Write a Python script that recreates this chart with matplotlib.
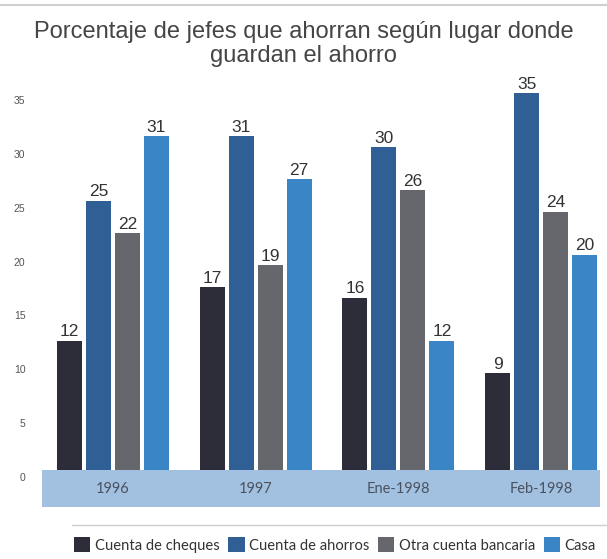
"""Porcentaje de jefes que ahorran según lugar donde guardan el ahorro."""

import numpy as np
import matplotlib
matplotlib.use("Agg")
import matplotlib.pyplot as plt
import matplotlib.transforms as mtransforms
from matplotlib.lines import Line2D

periods = ["1996", "1997", "Ene-1998", "Feb-1998"]
series = ["Cuenta de cheques", "Cuenta de ahorros", "Otra cuenta bancaria", "Casa"]
cheques = [12, 17, 16, 9]
ahorros = [25, 31, 30, 35]
otra = [22, 19, 26, 24]
casa = [31, 27, 12, 20]
y_ticks = [0, 5, 10, 15, 20, 25, 30, 35]

colors = ["#2c2d38", "#2f5f94", "#66676c", "#3a85c6"]
band_color = "#a2c1e0"
sans = ["Liberation Sans", "DejaVu Sans"]
geo = ["Lato", "DejaVu Sans"]

fig = plt.figure(figsize=(6.07, 5.59), dpi=100)
fig.patch.set_facecolor("white")
ax = fig.add_axes([0.0692, 0.0930, 0.9193, 0.779])

x = np.arange(len(periods))
step = 0.203
width = 0.175
for i, (name, vals) in enumerate(zip(series, [cheques, ahorros, otra, casa])):
    bars = ax.bar(x + (i - 1.5) * step, vals, width=width, color=colors[i],
                  label=name, zorder=3)
    ax.bar_label(bars, padding=1, fontsize=12.5, color="#333333", family=sans)

# light blue band holding the category labels
ax.axhspan(-3.44, 0, color=band_color, zorder=1, lw=0)
for xi, lab in zip(x, periods):
    ax.text(xi, -1.75, lab, ha="center", va="center", fontsize=10.5,
            color="#4a5260", family=geo, zorder=4)

ax.set_xlim(-0.498, 3.413)
ax.set_ylim(-3.44, 37)
ax.set_xticks([])
ax.set_yticks(y_ticks)
ax.set_yticklabels([str(t) for t in y_ticks], fontsize=7.5, color="#555555",
                   family=sans)
ax.tick_params(axis="y", length=0, pad=12)
for spine in ax.spines.values():
    spine.set_visible(False)

# scanned tick labels sit a little below the bar scale
offset = mtransforms.ScaledTranslation(0, -7 / 100, fig.dpi_scale_trans)
for lbl in ax.get_yticklabels():
    lbl.set_transform(lbl.get_transform() + offset)

fig.text(0.5, 1 - 44 / 559,
         "Porcentaje de jefes que ahorran según lugar donde\nguardan el ahorro",
         ha="center", va="center", fontsize=17, color="#454545",
         family=sans, linespacing=1.12)

fig.add_artist(Line2D([0.0, 1.0], [1 - 5 / 559] * 2, color="#d0d0d0", lw=1.5))
fig.add_artist(Line2D([72 / 607, 1.0], [1 - 525 / 559] * 2, color="#cfcfcf", lw=1))

fig.legend(loc="center", bbox_to_anchor=(335 / 607, 1 - 545 / 559), ncol=4,
           frameon=False, prop={"family": geo, "size": 10.6},
           handlelength=1.1, handleheight=1.1, handletextpad=0.3,
           columnspacing=0.6, labelcolor="#333333")

fig.savefig("out.png", dpi=100)
